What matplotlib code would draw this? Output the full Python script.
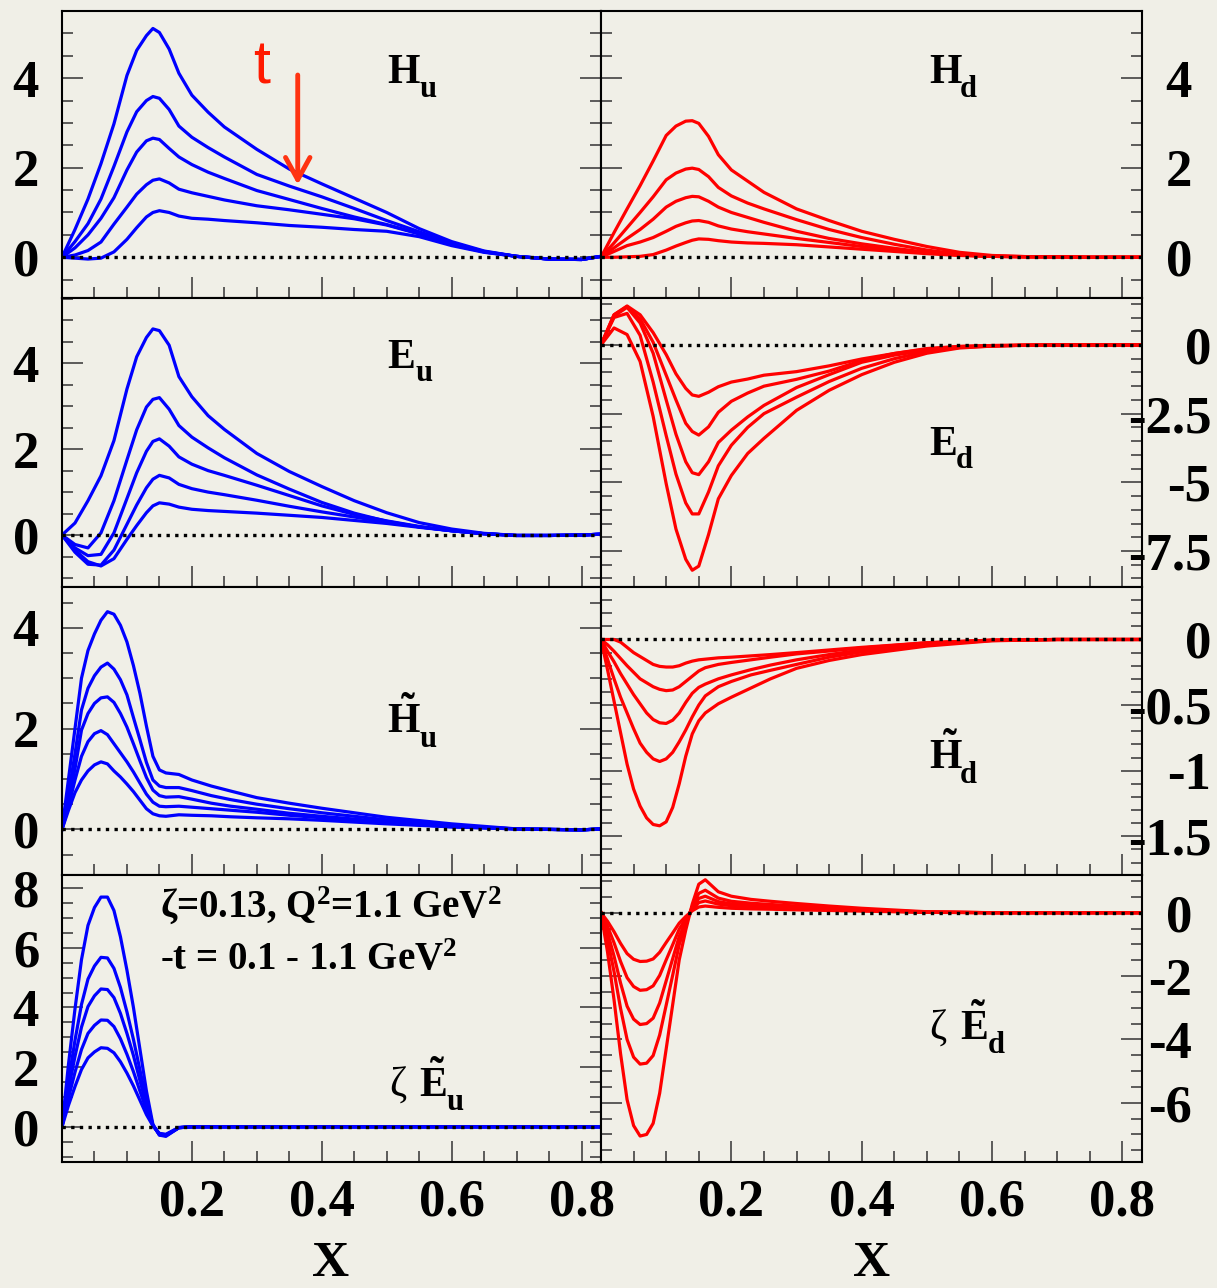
import matplotlib.pyplot as plt
from matplotlib.ticker import FixedLocator, MultipleLocator

# x grids, values
x_a = [0, 0.02, 0.04, 0.06, 0.08, 0.10, 0.115, 0.13, 0.14, 0.15, 0.165, 0.18, 0.20,
       0.225, 0.25, 0.30, 0.35, 0.40, 0.45, 0.50, 0.55, 0.60, 0.65, 0.70, 0.75, 0.80, 0.83]
x_b = [0, 0.01, 0.02, 0.03, 0.04, 0.05, 0.06, 0.07, 0.08, 0.09, 0.10, 0.11, 0.12, 0.13,
       0.14, 0.15, 0.16, 0.18, 0.20, 0.23, 0.26, 0.30, 0.35, 0.40, 0.50, 0.60, 0.70, 0.80, 0.83]

# five curves per panel, -t = 0.1 (largest) ... 1.1
hu = [
    [0, 0.62, 1.30, 2.09, 2.98, 4.06, 4.62, 4.95, 5.11, 5.02, 4.65, 4.11, 3.62, 3.24, 2.91, 2.41, 1.97, 1.64, 1.32, 1.00, 0.64, 0.35, 0.14, 0.02, -0.04, -0.05, 0.02],
    [0, 0.35, 0.75, 1.30, 2.03, 2.80, 3.25, 3.50, 3.59, 3.55, 3.30, 2.93, 2.68, 2.45, 2.24, 1.85, 1.59, 1.35, 1.09, 0.82, 0.57, 0.32, 0.13, 0.02, -0.04, -0.05, 0.02],
    [0, 0.21, 0.50, 0.87, 1.33, 1.95, 2.35, 2.60, 2.66, 2.63, 2.43, 2.24, 2.07, 1.90, 1.76, 1.49, 1.29, 1.09, 0.90, 0.73, 0.53, 0.30, 0.12, 0.02, -0.04, -0.05, 0.02],
    [0, 0.05, 0.15, 0.34, 0.74, 1.12, 1.41, 1.62, 1.72, 1.75, 1.66, 1.52, 1.44, 1.36, 1.28, 1.15, 1.06, 0.96, 0.86, 0.72, 0.52, 0.28, 0.12, 0.02, -0.04, -0.05, 0.02],
    [0, -0.02, -0.04, -0.02, 0.12, 0.40, 0.66, 0.90, 1.00, 1.04, 1.00, 0.92, 0.87, 0.85, 0.82, 0.77, 0.71, 0.67, 0.62, 0.58, 0.46, 0.26, 0.11, 0.02, -0.04, -0.05, 0.02],
]
hd = [
    [0, 0.55, 1.08, 1.60, 2.15, 2.72, 2.93, 3.04, 3.05, 2.99, 2.70, 2.29, 1.95, 1.70, 1.45, 1.08, 0.82, 0.58, 0.40, 0.24, 0.11, 0.04, 0.015, 0.01, 0, 0, 0],
    [0, 0.32, 0.66, 1.00, 1.35, 1.73, 1.88, 1.97, 1.99, 1.96, 1.80, 1.56, 1.37, 1.21, 1.08, 0.84, 0.62, 0.44, 0.29, 0.16, 0.07, 0.03, 0.015, 0.01, 0, 0, 0],
    [0, 0.21, 0.42, 0.62, 0.85, 1.12, 1.25, 1.33, 1.36, 1.35, 1.25, 1.12, 1.00, 0.89, 0.78, 0.58, 0.42, 0.30, 0.20, 0.11, 0.05, 0.02, 0.01, 0.01, 0, 0, 0],
    [0, 0.13, 0.26, 0.34, 0.44, 0.58, 0.69, 0.77, 0.81, 0.82, 0.78, 0.70, 0.63, 0.57, 0.52, 0.42, 0.33, 0.24, 0.17, 0.10, 0.05, 0.02, 0.01, 0.01, 0, 0, 0],
    [0, 0.0, 0.01, 0.02, 0.06, 0.16, 0.25, 0.33, 0.38, 0.41, 0.40, 0.37, 0.34, 0.32, 0.31, 0.28, 0.23, 0.18, 0.13, 0.08, 0.04, 0.02, 0.01, 0.01, 0, 0, 0],
]
eu = [
    [0, 0.28, 0.80, 1.38, 2.20, 3.40, 4.15, 4.60, 4.80, 4.76, 4.42, 3.69, 3.22, 2.78, 2.46, 1.90, 1.48, 1.13, 0.80, 0.52, 0.29, 0.14, 0.04, -0.01, -0.01, 0.0, 0.02],
    [0, -0.22, -0.30, 0.05, 0.80, 1.75, 2.45, 2.98, 3.16, 3.20, 2.93, 2.55, 2.28, 2.03, 1.80, 1.40, 1.07, 0.76, 0.51, 0.32, 0.19, 0.10, 0.03, -0.01, -0.01, 0.0, 0.02],
    [0, -0.30, -0.48, -0.45, 0.05, 0.85, 1.45, 1.95, 2.18, 2.24, 2.07, 1.82, 1.65, 1.50, 1.39, 1.16, 0.92, 0.68, 0.48, 0.33, 0.20, 0.10, 0.03, -0.01, -0.01, 0.0, 0.02],
    [0, -0.40, -0.68, -0.70, -0.35, 0.25, 0.70, 1.10, 1.30, 1.39, 1.33, 1.18, 1.08, 1.00, 0.94, 0.81, 0.67, 0.54, 0.42, 0.30, 0.19, 0.10, 0.03, -0.01, -0.01, 0.0, 0.02],
    [0, -0.35, -0.62, -0.72, -0.55, -0.10, 0.22, 0.52, 0.68, 0.75, 0.72, 0.65, 0.60, 0.57, 0.55, 0.51, 0.46, 0.41, 0.34, 0.27, 0.18, 0.10, 0.03, -0.01, -0.01, 0.0, 0.02],
]
ed = [
    [0, 1.10, 1.42, 1.10, 0.45, -0.35, -1.05, -1.58, -1.82, -1.87, -1.72, -1.52, -1.35, -1.24, -1.10, -0.97, -0.76, -0.51, -0.31, -0.13, -0.05, -0.02, -0.01, 0, 0, 0, 0],
    [0, 1.10, 1.40, 0.95, 0.10, -1.10, -2.00, -2.85, -3.15, -3.28, -2.98, -2.45, -2.05, -1.75, -1.50, -1.25, -0.95, -0.57, -0.31, -0.15, -0.06, -0.02, -0.01, 0, 0, 0, 0],
    [0, 1.05, 1.37, 0.80, -0.30, -2.00, -3.25, -4.25, -4.65, -4.72, -4.25, -3.55, -3.10, -2.62, -2.20, -1.55, -1.08, -0.63, -0.37, -0.19, -0.08, -0.03, -0.01, 0, 0, 0, 0],
    [0, 1.00, 1.15, 0.35, -1.35, -3.30, -4.70, -5.75, -6.15, -6.15, -5.35, -4.40, -3.65, -3.00, -2.50, -1.90, -1.33, -0.85, -0.50, -0.24, -0.09, -0.04, -0.01, 0, 0, 0, 0],
    [0, 0.62, 0.38, -0.60, -2.60, -5.05, -6.70, -7.80, -8.20, -8.05, -6.90, -5.60, -4.75, -3.95, -3.40, -2.38, -1.65, -1.08, -0.63, -0.30, -0.11, -0.04, -0.01, 0, 0, 0, 0],
]
htu = [
    [0, 1.00, 2.00, 3.00, 3.55, 3.88, 4.15, 4.32, 4.27, 4.05, 3.72, 3.25, 2.70, 2.05, 1.45, 1.18, 1.12, 1.09, 0.98, 0.86, 0.76, 0.63, 0.52, 0.42, 0.24, 0.11, 0.01, -0.01, 0.01],
    [0, 0.70, 1.50, 2.37, 2.80, 3.05, 3.22, 3.30, 3.18, 2.97, 2.67, 2.22, 1.78, 1.33, 0.98, 0.86, 0.83, 0.83, 0.77, 0.67, 0.59, 0.50, 0.41, 0.33, 0.19, 0.07, 0.01, -0.01, 0.01],
    [0, 0.55, 1.20, 1.97, 2.30, 2.50, 2.61, 2.63, 2.52, 2.30, 2.03, 1.70, 1.36, 1.03, 0.78, 0.67, 0.64, 0.65, 0.60, 0.52, 0.46, 0.40, 0.32, 0.26, 0.15, 0.06, 0.01, -0.01, 0.01],
    [0, 0.45, 0.98, 1.45, 1.74, 1.90, 1.96, 1.88, 1.70, 1.52, 1.34, 1.14, 0.92, 0.70, 0.54, 0.46, 0.45, 0.46, 0.44, 0.41, 0.38, 0.34, 0.28, 0.23, 0.13, 0.05, 0.01, -0.01, 0.01],
    [0, 0.38, 0.73, 0.98, 1.16, 1.28, 1.34, 1.30, 1.16, 1.04, 0.90, 0.75, 0.58, 0.41, 0.31, 0.27, 0.26, 0.29, 0.28, 0.27, 0.25, 0.23, 0.21, 0.18, 0.11, 0.05, 0.01, -0.01, 0.01],
]
htd = [
    [0, 0.0, 0.0, -0.02, -0.06, -0.10, -0.13, -0.16, -0.19, -0.205, -0.21, -0.21, -0.20, -0.18, -0.165, -0.155, -0.15, -0.14, -0.135, -0.125, -0.115, -0.10, -0.08, -0.06, -0.025, -0.005, 0, 0, 0],
    [0, -0.04, -0.09, -0.145, -0.20, -0.25, -0.30, -0.33, -0.36, -0.38, -0.39, -0.385, -0.36, -0.32, -0.28, -0.24, -0.215, -0.19, -0.175, -0.155, -0.135, -0.11, -0.088, -0.065, -0.025, -0.005, 0, 0, 0],
    [0, -0.09, -0.17, -0.26, -0.34, -0.42, -0.49, -0.56, -0.61, -0.635, -0.64, -0.615, -0.56, -0.48, -0.41, -0.365, -0.34, -0.30, -0.27, -0.23, -0.195, -0.155, -0.115, -0.08, -0.03, -0.006, 0, 0, 0],
    [0, -0.15, -0.30, -0.44, -0.56, -0.68, -0.79, -0.86, -0.91, -0.93, -0.91, -0.86, -0.78, -0.69, -0.59, -0.50, -0.43, -0.36, -0.32, -0.27, -0.235, -0.19, -0.135, -0.095, -0.04, -0.008, 0, 0, 0],
    [0, -0.23, -0.47, -0.71, -0.95, -1.14, -1.27, -1.36, -1.41, -1.42, -1.39, -1.28, -1.10, -0.89, -0.72, -0.62, -0.56, -0.49, -0.44, -0.37, -0.30, -0.22, -0.16, -0.115, -0.05, -0.01, 0, 0, 0],
]
etu = [
    [0, 2.10, 3.95, 5.60, 6.75, 7.35, 7.70, 7.70, 7.25, 6.37, 5.25, 4.00, 2.60, 1.20, 0.08, -0.28, -0.32, -0.03, 0, 0, 0, 0, 0, 0, 0, 0, 0, 0, 0],
    [0, 1.54, 2.90, 4.10, 4.95, 5.39, 5.68, 5.66, 5.31, 4.67, 3.85, 2.93, 1.91, 0.88, 0.06, -0.27, -0.30, -0.03, 0, 0, 0, 0, 0, 0, 0, 0, 0, 0, 0],
    [0, 1.25, 2.36, 3.34, 4.03, 4.39, 4.62, 4.60, 4.33, 3.80, 3.13, 2.39, 1.55, 0.72, 0.05, -0.26, -0.29, -0.03, 0, 0, 0, 0, 0, 0, 0, 0, 0, 0, 0],
    [0, 0.97, 1.83, 2.59, 3.13, 3.40, 3.58, 3.57, 3.36, 2.95, 2.43, 1.85, 1.20, 0.56, 0.04, -0.24, -0.27, -0.03, 0, 0, 0, 0, 0, 0, 0, 0, 0, 0, 0],
    [0, 0.72, 1.35, 1.92, 2.31, 2.51, 2.65, 2.63, 2.48, 2.18, 1.80, 1.37, 0.89, 0.41, 0.03, -0.22, -0.25, -0.02, 0, 0, 0, 0, 0, 0, 0, 0, 0, 0, 0],
]
etd = [
    [0, -1.24, -2.75, -4.45, -5.90, -6.72, -7.05, -7.00, -6.65, -5.70, -4.30, -2.90, -1.49, -0.55, 0.27, 0.90, 1.04, 0.66, 0.52, 0.42, 0.36, 0.29, 0.21, 0.14, 0.03, 0, 0, 0, 0],
    [0, -0.84, -1.86, -3.02, -4.00, -4.56, -4.78, -4.75, -4.51, -3.86, -2.92, -1.97, -1.01, -0.37, 0.20, 0.61, 0.71, 0.46, 0.36, 0.30, 0.26, 0.21, 0.15, 0.10, 0.02, 0, 0, 0, 0],
    [0, -0.62, -1.37, -2.22, -2.95, -3.36, -3.53, -3.50, -3.33, -2.85, -2.15, -1.45, -0.75, -0.28, 0.15, 0.45, 0.52, 0.35, 0.28, 0.23, 0.20, 0.16, 0.12, 0.08, 0.02, 0, 0, 0, 0],
    [0, -0.43, -0.95, -1.54, -2.05, -2.33, -2.45, -2.43, -2.31, -1.98, -1.49, -1.01, -0.52, -0.19, 0.10, 0.32, 0.37, 0.27, 0.22, 0.18, 0.15, 0.13, 0.10, 0.07, 0.015, 0, 0, 0, 0],
    [0, -0.27, -0.60, -0.97, -1.29, -1.47, -1.54, -1.53, -1.46, -1.25, -0.94, -0.64, -0.33, -0.12, 0.06, 0.18, 0.21, 0.17, 0.14, 0.12, 0.11, 0.09, 0.07, 0.05, 0.01, 0, 0, 0, 0],
]

x_ticks = [0.2, 0.4, 0.6, 0.8]
x_ticklabels = ['0.2', '0.4', '0.6', '0.8']
yt_pos = [0, 2, 4]
yt_pos8 = [0, 2, 4, 6, 8]
yt_ed = [0, -2.5, -5, -7.5]
yt_htd = [0, -0.5, -1, -1.5]
yt_etd = [0, -2, -4, -6]

plt.rcParams['font.family'] = ['Liberation Serif', 'DejaVu Serif']
plt.rcParams['font.weight'] = 'bold'
plt.rcParams['mathtext.fontset'] = 'custom'
plt.rcParams['mathtext.rm'] = 'Liberation Serif:bold'
plt.rcParams['mathtext.it'] = 'Liberation Serif:bold'
plt.rcParams['mathtext.bf'] = 'Liberation Serif:bold'

bg = '#f0efe7'
W, H = 1217, 1288
fig = plt.figure(figsize=(W / 100, H / 100), dpi=100, facecolor=bg)

col_px = [(62, 601), (601, 1142)]
row_px = [(11, 298), (298, 587), (587, 875), (875, 1162)]

# label pieces: (text, x px, y px baseline, size)
lab_hu = [('H', 387, 83, 30), ('u', 420, 97, 22)]
lab_hd = [('H', 929, 83, 30), ('d', 960, 97, 22)]
lab_eu = [('E', 387, 368, 30), ('u', 416, 381, 22)]
lab_ed = [('E', 929, 455, 30), ('d', 956, 468, 22)]
lab_htu = [(r'$\tilde{H}$', 387, 733, 30), ('u', 420, 747, 22)]
lab_htd = [(r'$\tilde{H}$', 929, 769, 30), ('d', 960, 783, 22)]
lab_etu = [('\u03b6', 389, 1097, 30), (r'$\tilde{E}$', 419, 1097, 30), ('u', 447, 1110, 22)]
lab_etd = [('\u03b6', 929, 1040, 30), (r'$\tilde{E}$', 960, 1040, 30), ('d', 988, 1053, 22)]

panels = [
    (0, 0, x_a, hu, (-0.91, 5.50), yt_pos, 0.5, lab_hu, 'blue'),
    (0, 1, x_a, hd, (-0.91, 5.50), yt_pos, 0.5, lab_hd, 'red'),
    (1, 0, x_a, eu, (-1.21, 5.52), yt_pos, 0.5, lab_eu, 'blue'),
    (1, 1, x_a, ed, (-8.81, 1.71), yt_ed, 0.5, lab_ed, 'red'),
    (2, 0, x_b, htu, (-0.905, 4.81), yt_pos, 0.5, lab_htu, 'blue'),
    (2, 1, x_b, htd, (-1.795, 0.40), yt_htd, 0.1, lab_htd, 'red'),
    (3, 0, x_b, etu, (-1.18, 8.44), yt_pos8, 0.5, lab_etu, 'blue'),
    (3, 1, x_b, etd, (-7.87, 1.19), yt_etd, 0.5, lab_etd, 'red'),
]
line_col = {'blue': '#0000ff', 'red': '#ff0000'}
right_pad = {0: 36, 1: 50, 2: 50, 3: 36}

axes = {}
for row, col, xs, curves, ylim, yt, ymin_step, label, c in panels:
    x0, x1 = col_px[col]
    y0, y1 = row_px[row]
    ax = fig.add_axes([x0 / W, 1 - y1 / H, (x1 - x0) / W, (y1 - y0) / H])
    ax.set_facecolor(bg)
    for ys in curves:
        ax.plot(xs, ys, color=line_col[c], lw=2.3, solid_joinstyle='round', zorder=2)
    ax.axhline(0, color='black', lw=2.4, ls=(0, (1, 1.6)), zorder=3)
    ax.set_xlim(0, 0.83)
    ax.set_ylim(*ylim)
    ax.xaxis.set_major_locator(FixedLocator(x_ticks))
    ax.xaxis.set_minor_locator(MultipleLocator(0.05))
    ax.set_yticks(yt, ['%g' % v for v in yt])
    ax.yaxis.set_minor_locator(MultipleLocator(ymin_step))
    if row == 3:
        ax.set_xticklabels(x_ticklabels)
    else:
        ax.set_xticklabels([])
    ax.tick_params(axis='both', which='both', direction='in', color='#333333', width=1.1)
    ax.tick_params(axis='both', which='major', length=15)
    ax.tick_params(axis='both', which='minor', length=8)
    ax.tick_params(axis='x', which='both', top=False, bottom=True, labelsize=38, pad=12)
    ax.tick_params(axis='y', which='both', left=True, right=True, labelsize=38)
    if col == 0:
        ax.tick_params(axis='y', labelleft=True, labelright=False, pad=16.5)
    else:
        ax.tick_params(axis='y', labelleft=False, labelright=True, pad=right_pad[row])
        for tk in ax.yaxis.get_major_ticks():
            tk.label2.set_horizontalalignment('right')
    for sp in ax.spines.values():
        sp.set_linewidth(1.5)
        sp.set_color('black')
    for txt, lx, ly, fs in label:
        fw = 'normal' if txt == '\u03b6' else 'bold'
        fig.text(lx / W, 1 - ly / H, txt, fontsize=fs, fontweight=fw, ha='left', va='baseline')
    axes[(row, col)] = ax

# kinematics note
fig.text(160 / W, 1 - 917 / H, '\u03b6=0.13, Q$^{2}$=1.1 GeV$^{2}$',
         fontsize=28, ha='left', va='baseline')
fig.text(160 / W, 1 - 970 / H, '-t = 0.1 - 1.1 GeV$^{2}$',
         fontsize=28, ha='left', va='baseline')

# red arrow showing the t direction
ax = axes[(0, 0)]
ax.annotate('', xy=(0.363, 1.62), xytext=(0.363, 4.07),
            arrowprops=dict(arrowstyle='->,head_length=0.4,head_width=0.22',
                            color='#ff3311', lw=3.5, mutation_scale=40, shrinkA=0, shrinkB=0),
            zorder=5)
fig.text(253 / W, 1 - 83 / H, 't', fontsize=44, color='#ff1a00', family='Liberation Sans',
         fontweight='normal', ha='left', va='baseline')

for xc in (331, 872):
    fig.text(xc / W, 1 - 1276 / H, 'X', fontsize=37, ha='center', va='baseline')

fig.savefig('out.png', dpi=100, facecolor=bg)
